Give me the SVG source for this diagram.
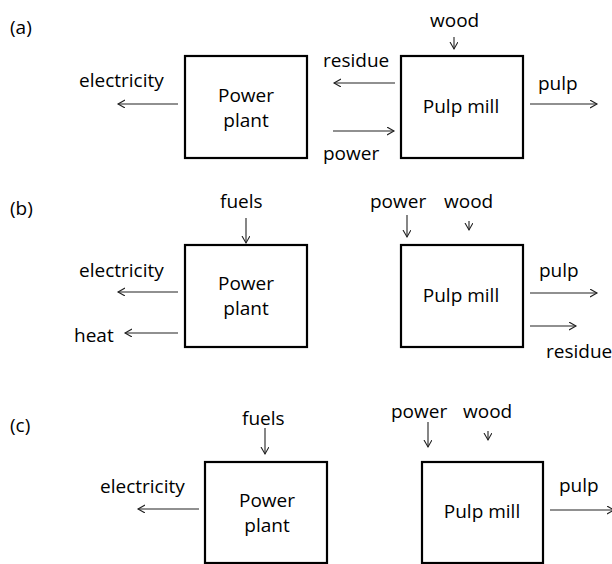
<svg xmlns="http://www.w3.org/2000/svg" width="612" height="564" viewBox="0 0 612 564">
<defs>
<style>
text{font-family:"Open Sans","Noto Sans",sans-serif;font-size:19px;fill:#000}
.box{fill:#fff;stroke:#000;stroke-width:2.2}
.c{text-anchor:middle}
.arr{stroke:#222;stroke-width:1.1;fill:none;marker-end:url(#ah)}
</style>
<marker id="ah" markerUnits="userSpaceOnUse" markerWidth="10" markerHeight="10" refX="7" refY="4" orient="auto">
<path d="M0,0 L7,4 L0,8" fill="none" stroke="#222" stroke-width="1.1"/>
</marker>
</defs>
<rect width="612" height="564" fill="#fff"/>
<text x="10" y="34">(a)</text>
<text x="10" y="215">(b)</text>
<text x="10" y="432">(c)</text>

<g id="a-power-plant"><rect class="box" x="185" y="56" width="122" height="102"/><text class="c" x="246" y="102">Power</text><text class="c" x="246" y="127">plant</text></g>
<g id="a-pulp-mill"><rect class="box" x="401" y="56" width="122" height="102"/><text class="c" x="461" y="113">Pulp mill</text></g>
<g id="b-power-plant"><rect class="box" x="185" y="245" width="122" height="102"/><text class="c" x="246" y="290">Power</text><text class="c" x="246" y="315">plant</text></g>
<g id="b-pulp-mill"><rect class="box" x="401" y="245" width="122" height="102"/><text class="c" x="461" y="302">Pulp mill</text></g>
<g id="c-power-plant"><rect class="box" x="205" y="462" width="122" height="101"/><text class="c" x="267" y="507">Power</text><text class="c" x="267" y="532">plant</text></g>
<g id="c-pulp-mill"><rect class="box" x="422" y="462" width="121" height="101"/><text class="c" x="482" y="518">Pulp mill</text></g>

<g id="labels">
<text x="79" y="87">electricity</text>
<text x="430" y="27">wood</text>
<text x="323" y="67">residue</text>
<text x="323" y="160">power</text>
<text x="538" y="90">pulp</text>
<text x="220" y="208">fuels</text>
<text x="79" y="277">electricity</text>
<text x="74" y="342">heat</text>
<text x="370" y="208">power</text>
<text x="444" y="208">wood</text>
<text x="539" y="277">pulp</text>
<text x="546" y="358">residue</text>
<text x="242" y="425">fuels</text>
<text x="100" y="493">electricity</text>
<text x="391" y="418">power</text>
<text x="463" y="418">wood</text>
<text x="559" y="492">pulp</text>
</g>

<g id="connectors">
<line class="arr" x1="178" y1="104" x2="118" y2="104"/>
<line class="arr" x1="454" y1="37" x2="454" y2="49"/>
<line class="arr" x1="395" y1="83" x2="334" y2="83"/>
<line class="arr" x1="333" y1="131" x2="394" y2="131"/>
<line class="arr" x1="530" y1="104" x2="597" y2="104"/>

<line class="arr" x1="246" y1="218" x2="246" y2="243"/>
<line class="arr" x1="178" y1="292" x2="118" y2="292"/>
<line class="arr" x1="178" y1="333" x2="125" y2="333"/>
<line class="arr" x1="407" y1="215" x2="407" y2="237"/>
<line class="arr" x1="469" y1="221" x2="469" y2="230"/>
<line class="arr" x1="530" y1="293" x2="597" y2="293"/>
<line class="arr" x1="530" y1="326" x2="576" y2="326"/>

<line class="arr" x1="265" y1="428" x2="265" y2="454"/>
<line class="arr" x1="199" y1="509" x2="138" y2="509"/>
<line class="arr" x1="428" y1="422" x2="428" y2="447"/>
<line class="arr" x1="488" y1="431" x2="488" y2="440"/>
<line class="arr" x1="550" y1="510" x2="614" y2="510"/>
</g>
</svg>
